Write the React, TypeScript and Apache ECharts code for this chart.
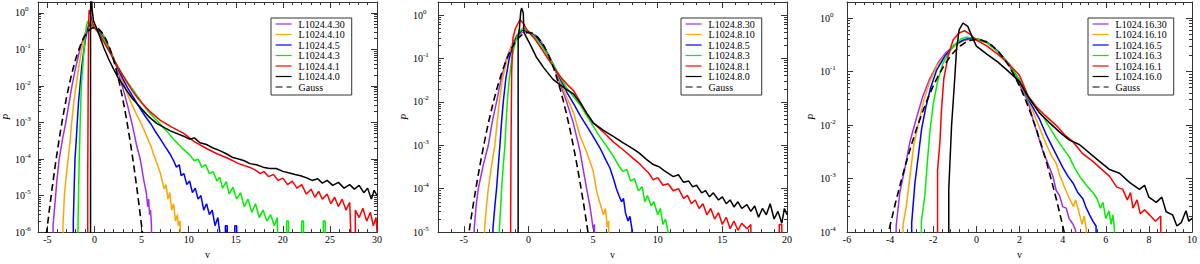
import React, { useEffect, useRef } from 'react';
import * as echarts from 'echarts';

type Pt = [number, number];

// ---------- values ([v, P]) ----------
// Gaussian reference curve
const gaussCurve: Pt[] = [
  [-5.5, 1.08e-7], [-5.25, 4.13e-7], [-5, 1.49e-6], [-4.75, 5.03e-6], [-4.5, 1.6e-5], [-4.25, 4.77e-5],
  [-4, 1.34e-4], [-3.75, 3.53e-4], [-3.5, 8.73e-4], [-3.25, 2.03e-3], [-3, 4.43e-3], [-2.75, 9.09e-3],
  [-2.5, 0.0175], [-2.25, 0.0317], [-2, 0.054], [-1.75, 0.0863], [-1.5, 0.1295], [-1.25, 0.1826],
  [-1, 0.242], [-0.75, 0.3011], [-0.5, 0.3521], [-0.25, 0.3867], [0, 0.3989], [0.25, 0.3867],
  [0.5, 0.3521], [0.75, 0.3011], [1, 0.242], [1.25, 0.1826], [1.5, 0.1295], [1.75, 0.0863],
  [2, 0.054], [2.25, 0.0317], [2.5, 0.0175], [2.75, 9.09e-3], [3, 4.43e-3], [3.25, 2.03e-3],
  [3.5, 8.73e-4], [3.75, 3.53e-4], [4, 1.34e-4], [4.25, 4.77e-5], [4.5, 1.6e-5], [4.75, 5.03e-6],
  [5, 1.49e-6], [5.25, 4.13e-7], [5.5, 1.08e-7],
];

// Panel 1 : L1024.4.*
const p1_k30: Pt[] = [
  [-4.4, 1e-8], [-4.4, 1.5e-6], [-4.2, 6e-6], [-4.0, 2.5e-5], [-3.75, 1e-4], [-3.4, 3.5e-4], [-3.05, 1e-3],
  [-2.7, 3.5e-3], [-2.4, 1e-2], [-2.0, 3.2e-2], [-1.55, 0.1], [-1.2, 0.2], [-0.9, 0.32], [-0.6, 0.45],
  [-0.35, 0.46], [0, 0.41], [0.5, 0.35], [1, 0.23], [1.5, 0.125], [2, 0.06], [2.5, 0.025], [3, 9e-3],
  [3.5, 3e-3], [4, 9e-4], [4.5, 2.2e-4], [4.85, 1e-4], [5.0, 6e-5], [5.25, 2.5e-5], [5.5, 1.2e-5],
  [5.65, 5e-6], [5.75, 8e-6], [5.85, 3e-6], [5.95, 4e-6], [6.05, 1.5e-6], [6.1, 1e-8],
];
const p1_k10: Pt[] = [
  [-3.35, 1e-8], [-3.35, 1.5e-6], [-3.2, 1e-5], [-3.0, 3.5e-5], [-2.8, 1e-4], [-2.6, 3e-4], [-2.42, 1e-3],
  [-2.2, 3.5e-3], [-1.96, 1e-2], [-1.7, 3e-2], [-1.36, 0.1], [-1.1, 0.2], [-0.85, 0.35], [-0.6, 0.5],
  [-0.4, 0.48], [0, 0.4], [0.5, 0.34], [1, 0.22], [1.5, 0.12], [2, 0.06], [2.5, 0.028], [3, 0.013],
  [3.5, 6e-3], [4, 3e-3], [4.5, 1.6e-3], [5, 9e-4], [5.5, 4.5e-4], [6, 2.2e-4], [6.3, 1.3e-4], [6.6, 8e-5],
  [7.0, 4e-5], [7.2, 2.5e-5], [7.4, 1.5e-5], [7.6, 2e-5], [7.8, 8e-6], [8.0, 1.2e-5], [8.2, 4e-6],
  [8.4, 6e-6], [8.6, 2e-6], [8.8, 3e-6], [8.9, 1.5e-6], [9.1, 2e-6], [9.2, 1e-8],
];
const p1_k5: Pt[] = [
  [-2.25, 1e-8], [-2.25, 2e-6], [-2.15, 2e-5], [-2.07, 1e-4], [-1.95, 3e-4], [-1.83, 1e-3], [-1.7, 3.5e-3],
  [-1.54, 1e-2], [-1.35, 3.5e-2], [-1.12, 0.1], [-0.95, 0.2], [-0.75, 0.35], [-0.55, 0.5], [-0.3, 0.47],
  [0, 0.39], [0.5, 0.31], [1, 0.2], [1.5, 0.11], [2, 0.058], [2.5, 0.03], [3, 0.016], [3.5, 9e-3],
  [4, 5.5e-3], [4.5, 3.4e-3], [5, 2.1e-3], [5.5, 1.35e-3], [6, 9e-4], [6.5, 5.5e-4], [7, 3.5e-4],
  [7.5, 2.2e-4], [8, 1.4e-4], [8.4, 9e-5], [8.7, 6e-5], [9.0, 7e-5], [9.2, 3.5e-5], [9.5, 4e-5],
  [9.8, 2e-5], [10.1, 2.5e-5], [10.4, 1.2e-5], [10.7, 1.6e-5], [11.0, 8e-6], [11.3, 1e-5], [11.6, 4e-6],
  [11.9, 6e-6], [12.2, 3e-6], [12.5, 4e-6], [12.8, 1.5e-6], [13.1, 2.5e-6], [13.3, 1e-6], [13.3, 1e-8],
  [13.9, 1e-8], [13.9, 1.5e-6], [14.1, 1.5e-6], [14.1, 1e-8], [14.9, 1e-8], [14.9, 1.5e-6], [15.1, 1.5e-6],
  [15.1, 1e-8],
];
const p1_k3: Pt[] = [
  [-1.75, 1e-8], [-1.75, 2e-6], [-1.7, 1e-5], [-1.62, 1e-4], [-1.52, 1e-3], [-1.4, 1e-2], [-1.2, 0.05],
  [-1.0, 0.2], [-0.85, 0.45], [-0.7, 0.6], [-0.5, 0.55], [-0.2, 0.45], [0, 0.38], [0.5, 0.29], [1, 0.19],
  [1.5, 0.105], [2, 0.058], [2.5, 0.033], [3, 0.02], [3.5, 0.013], [4, 8.5e-3], [4.5, 5.5e-3], [5, 3.6e-3],
  [5.7, 2e-3], [6.6, 1.15e-3], [7.5, 6.5e-4], [8.4, 3.5e-4], [9.3, 2e-4], [10.1, 1.3e-4], [10.6, 9e-5],
  [11.0, 1e-4], [11.4, 6e-5], [11.8, 7e-5], [12.2, 4e-5], [12.6, 4.5e-5], [13.0, 2.5e-5], [13.3, 3.2e-5],
  [13.6, 1.6e-5], [14.0, 2.4e-5], [14.3, 1.1e-5], [14.7, 1.7e-5], [15.1, 8e-6], [15.5, 1.2e-5],
  [15.9, 5e-6], [16.3, 8e-6], [16.7, 3.5e-6], [17.1, 6e-6], [17.5, 2.5e-6], [17.9, 4e-6], [18.3, 2e-6],
  [18.7, 3e-6], [19.1, 1.5e-6], [19.4, 2.5e-6], [19.7, 1e-8], [20.4, 1e-8], [20.4, 2e-6], [20.6, 2e-6],
  [20.6, 1e-8], [22.0, 1e-8], [22.0, 2e-6], [22.2, 2e-6], [22.2, 1e-8], [24.3, 1e-8], [24.3, 2e-6],
  [24.5, 2e-6], [24.5, 1e-8],
];
const p1_k1: Pt[] = [
  [-0.72, 1e-8], [-0.72, 3e-5], [-0.67, 1e-2], [-0.62, 0.5], [-0.57, 1.2], [-0.47, 1.1], [-0.35, 0.75],
  [-0.2, 0.52], [0, 0.4], [0.5, 0.27], [1, 0.16], [1.5, 0.095], [2, 0.055], [2.5, 0.033], [3, 0.02],
  [3.5, 0.012], [4, 7.5e-3], [4.5, 5e-3], [5, 3.5e-3], [5.9, 2e-3], [7, 1.15e-3], [8.2, 7.5e-4],
  [9.4, 5.2e-4], [10.6, 3e-4], [11.9, 1.95e-4], [13, 1.4e-4], [14.1, 1.07e-4], [15.3, 7.5e-5],
  [16.5, 5.9e-5], [17.1, 5e-5], [17.6, 4e-5], [18.0, 4.6e-5], [18.5, 3.3e-5], [19.0, 3.8e-5],
  [19.5, 2.6e-5], [20.0, 3e-5], [20.5, 2e-5], [21.0, 2.5e-5], [21.5, 1.6e-5], [22.0, 2e-5], [22.5, 1.1e-5],
  [23.0, 1.5e-5], [23.4, 9e-6], [23.8, 1.3e-5], [24.2, 8e-6], [24.7, 1.1e-5], [25.1, 6e-6], [25.5, 9e-6],
  [25.9, 5e-6], [26.3, 8e-6], [26.7, 4e-6], [27.1, 6.5e-6], [27.5, 1e-8], [27.7, 1e-8], [27.7, 4e-6],
  [28.1, 2.5e-6], [28.5, 4.5e-6], [28.9, 2e-6], [29.3, 3.5e-6], [29.6, 1.5e-6], [29.9, 2.5e-6], [30, 1e-6],
];
const p1_k0: Pt[] = [
  [-0.42, 1e-8], [-0.42, 0.5], [-0.4, 3], [-0.3, 2.5], [-0.25, 1.2], [-0.1, 0.6], [0.2, 0.4], [0.5, 0.25],
  [1, 0.11], [1.5, 0.055], [2, 0.03], [2.5, 0.017], [3, 0.011], [3.5, 7e-3], [4, 4.6e-3], [4.5, 3.3e-3],
  [5, 2.4e-3], [5.7, 1.5e-3], [6.6, 9.5e-4], [8, 6e-4], [9.4, 4.3e-4], [10.1, 3.5e-4], [10.6, 3.8e-4],
  [11.2, 2.8e-4], [11.9, 2.5e-4], [12.6, 2e-4], [13.3, 1.7e-4], [14, 1.4e-4], [14.7, 1.1e-4], [15.3, 1e-4],
  [15.9, 9e-5], [16.5, 7.5e-5], [17.2, 7e-5], [17.9, 6e-5], [18.6, 5.5e-5], [19.3, 5.5e-5], [20, 4.6e-5],
  [20.6, 4.2e-5], [21.3, 3.8e-5], [21.9, 3.5e-5], [22.6, 3e-5], [23.1, 2.6e-5], [23.7, 2.9e-5],
  [24.2, 2.2e-5], [24.7, 2.6e-5], [25.3, 1.9e-5], [25.9, 2.3e-5], [26.5, 1.6e-5], [27.1, 2e-5],
  [27.6, 1.5e-5], [28.1, 1.9e-5], [28.6, 1.2e-5], [29.0, 1.6e-5], [29.4, 8e-6], [29.7, 1.4e-5], [30, 1e-5],
];

// Panel 2 : L1024.8.*
const p2_k30: Pt[] = [
  [-4.2, 1e-8], [-4.2, 1.2e-5], [-4.05, 4e-5], [-3.88, 1e-4], [-3.5, 3.5e-4], [-3.11, 1e-3], [-2.8, 3.5e-3],
  [-2.47, 1e-2], [-2.1, 3.5e-2], [-1.7, 0.1], [-1.3, 0.2], [-0.9, 0.32], [-0.5, 0.4], [-0.2, 0.41],
  [0, 0.4], [0.5, 0.35], [1, 0.24], [1.5, 0.13], [2, 0.06], [2.5, 0.024], [3, 9e-3], [3.5, 3e-3],
  [4, 7e-4], [4.25, 2.6e-4], [4.5, 1e-4], [4.75, 4e-5], [4.9, 2e-5], [5.0, 1.2e-5], [5.1, 1.5e-5],
  [5.15, 1e-8],
];
const p2_k10: Pt[] = [
  [-3.4, 1e-8], [-3.4, 1.2e-5], [-3.25, 4e-5], [-3.11, 1e-4], [-2.85, 3.5e-4], [-2.6, 1e-3], [-2.42, 3.5e-3],
  [-2.26, 1e-2], [-2.0, 3.5e-2], [-1.64, 0.1], [-1.25, 0.22], [-0.9, 0.35], [-0.5, 0.42], [-0.2, 0.42],
  [0, 0.41], [0.5, 0.34], [1, 0.23], [1.5, 0.13], [2, 0.064], [2.5, 0.028], [3, 0.012], [3.5, 5.5e-3],
  [4, 1.6e-3], [4.5, 7e-4], [5, 2.6e-4], [5.3, 8e-5], [5.5, 5e-5], [5.8, 2.5e-5], [5.95, 3.5e-5],
  [6.1, 1.3e-5], [6.2, 1.8e-5], [6.25, 1e-8],
];
const p2_k5: Pt[] = [
  [-2.75, 1e-8], [-2.75, 1.2e-5], [-2.6, 4e-5], [-2.47, 1e-4], [-2.33, 3.5e-4], [-2.21, 1e-3],
  [-2.08, 3.5e-3], [-1.95, 1e-2], [-1.75, 3.5e-2], [-1.49, 0.1], [-1.2, 0.2], [-0.9, 0.33], [-0.5, 0.45],
  [-0.2, 0.43], [0, 0.41], [0.5, 0.33], [1, 0.22], [1.5, 0.125], [2, 0.065], [2.5, 0.032], [3, 0.016],
  [3.5, 9e-3], [4, 4.8e-3], [4.5, 2.8e-3], [5, 1.6e-3], [5.5, 9e-4], [6, 4.5e-4], [6.3, 3e-4],
  [6.6, 1.6e-4], [6.8, 1e-4], [7.0, 7e-5], [7.2, 5e-5], [7.35, 6e-5], [7.5, 2.8e-5], [7.7, 1.8e-5],
  [7.85, 2.3e-5], [8.0, 1.2e-5], [8.1, 1e-8],
];
const p2_k3: Pt[] = [
  [-2.25, 1e-8], [-2.25, 1.2e-5], [-2.15, 4e-5], [-2.08, 1e-4], [-1.95, 3.5e-4], [-1.82, 1e-3],
  [-1.73, 3.5e-3], [-1.64, 1e-2], [-1.48, 3.5e-2], [-1.3, 0.1], [-1.05, 0.22], [-0.75, 0.4], [-0.45, 0.5],
  [-0.2, 0.46], [0, 0.42], [0.5, 0.31], [1, 0.2], [1.5, 0.12], [2, 0.066], [2.5, 0.035], [3, 0.02],
  [3.5, 0.013], [4, 8.5e-3], [4.5, 4.8e-3], [5, 2.8e-3], [5.5, 1.6e-3], [6, 1e-3], [6.5, 6e-4],
  [7, 3.3e-4], [7.3, 2.5e-4], [7.6, 2.8e-4], [7.9, 1.5e-4], [8.2, 1.7e-4], [8.5, 9e-5], [8.8, 1.1e-4],
  [9.0, 5e-5], [9.2, 7e-5], [9.5, 4e-5], [9.7, 5e-5], [10.0, 2.5e-5], [10.2, 3.5e-5], [10.4, 1.5e-5],
  [10.6, 2e-5], [10.8, 1e-5], [10.85, 1e-8],
];
const p2_k1: Pt[] = [
  [-1.38, 1e-8], [-1.38, 2e-5], [-1.35, 1e-3], [-1.3, 0.05], [-1.2, 0.3], [-1.0, 0.5], [-0.66, 0.78],
  [-0.4, 0.65], [-0.2, 0.5], [0, 0.41], [0.5, 0.28], [1, 0.17], [1.5, 0.1], [2, 0.06], [2.5, 0.037],
  [3, 0.025], [3.5, 0.018], [4, 0.01], [4.5, 5.5e-3], [5, 3.3e-3], [5.8, 2e-3], [6.56, 1.2e-3],
  [7.3, 8e-4], [8.1, 5e-4], [8.5, 4e-4], [8.9, 3e-4], [9.3, 2.3e-4], [9.65, 1.6e-4], [10, 1.8e-4],
  [10.4, 1.2e-4], [10.8, 1.3e-4], [11.2, 9e-5], [11.6, 1e-4], [12.0, 6e-5], [12.3, 7e-5], [12.6, 4.5e-5],
  [12.9, 5.5e-5], [13.2, 3.5e-5], [13.5, 4.5e-5], [13.8, 2.5e-5], [14.1, 3.5e-5], [14.4, 2e-5],
  [14.7, 2.8e-5], [15.0, 1.5e-5], [15.3, 2.2e-5], [15.6, 1.2e-5], [15.9, 1.8e-5], [16.2, 1.1e-5],
  [16.5, 1.6e-5], [16.9, 1.2e-5], [17.2, 1.5e-5], [17.3, 1e-8], [19.4, 1e-8], [19.4, 1.5e-5],
  [19.6, 1.5e-5], [19.6, 1e-8],
];
const p2_k0: Pt[] = [
  [-0.8, 1e-8], [-0.8, 0.3], [-0.7, 0.5], [-0.6, 1.2], [-0.53, 1.45], [-0.4, 1.1], [-0.36, 0.4],
  [0.1, 0.22], [0.63, 0.105], [1.2, 0.06], [1.9, 0.033], [2.5, 0.024], [3, 0.019], [3.5, 0.015],
  [4, 9.5e-3], [4.5, 5.5e-3], [5, 3.3e-3], [5.8, 2.2e-3], [6.56, 1.6e-3], [7.3, 1.15e-3], [8.1, 8.3e-4],
  [8.6, 6.5e-4], [9.1, 4.8e-4], [9.65, 3.6e-4], [10.1, 3.2e-4], [10.5, 2.6e-4], [11.2, 1.9e-4],
  [11.6, 2.1e-4], [12.0, 1.4e-4], [12.4, 1.5e-4], [12.7, 1.1e-4], [13.0, 1.2e-4], [13.4, 8e-5],
  [13.7, 9e-5], [14.0, 6.5e-5], [14.3, 8e-5], [14.7, 5.5e-5], [15.0, 6.5e-5], [15.3, 4.5e-5],
  [15.6, 5.5e-5], [15.9, 3.8e-5], [16.2, 5e-5], [16.5, 3.5e-5], [16.9, 4.3e-5], [17.2, 3e-5], [17.5, 4e-5],
  [17.8, 2.2e-5], [18.1, 3.5e-5], [18.4, 2.5e-5], [18.7, 4.5e-5], [19.0, 2e-5], [19.3, 3e-5],
  [19.6, 1.6e-5], [19.8, 3.5e-5], [20, 2.5e-5],
];

// Panel 3 : L1024.16.*
const p3_k30: Pt[] = [
  [-3.72, 1e-8], [-3.72, 1.3e-4], [-3.55, 5.5e-4], [-3.31, 1.6e-3], [-3.08, 4.9e-3], [-2.8, 1.26e-2],
  [-2.5, 3.3e-2], [-2.16, 7.4e-2], [-1.77, 0.148], [-1.4, 0.23], [-1.0, 0.31], [-0.6, 0.38], [-0.2, 0.41],
  [0, 0.41], [0.5, 0.36], [1, 0.242], [1.5, 0.135], [2, 0.057], [2.4, 0.027], [2.63, 0.0126],
  [3.09, 3.2e-3], [3.3, 2e-3], [3.55, 1.1e-3], [3.7, 6e-4], [3.86, 4.8e-4], [4.0, 3e-4], [4.17, 2.8e-4],
  [4.3, 1.8e-4], [4.48, 1.4e-4], [4.6, 1.1e-4], [4.62, 1e-8],
];
const p3_k10: Pt[] = [
  [-3.4, 1e-8], [-3.4, 1.4e-4], [-3.24, 3.2e-4], [-3.08, 1.1e-3], [-2.9, 4.3e-3], [-2.68, 1.1e-2],
  [-2.44, 2.9e-2], [-2.16, 6.5e-2], [-1.82, 0.13], [-1.38, 0.22], [-1.0, 0.3], [-0.6, 0.38], [-0.3, 0.42],
  [0, 0.41], [0.5, 0.36], [1, 0.24], [1.5, 0.14], [2, 0.065], [2.4, 0.03], [2.78, 0.0126], [3.25, 4.3e-3],
  [3.5, 2.6e-3], [3.71, 1.9e-3], [3.85, 1.2e-3], [4.01, 8.3e-4], [4.15, 6e-4], [4.32, 4.2e-4], [4.5, 3e-4],
  [4.6, 4e-4], [4.79, 2.1e-4], [4.9, 1.4e-4], [5.0, 2e-4], [5.1, 1.1e-4], [5.12, 1e-8],
];
const p3_k5: Pt[] = [
  [-3.0, 1e-8], [-3.0, 1.5e-4], [-2.85, 8.3e-4], [-2.7, 2.5e-3], [-2.54, 8.5e-3], [-2.34, 2.2e-2],
  [-2.12, 5e-2], [-1.85, 0.105], [-1.46, 0.195], [-1.0, 0.32], [-0.6, 0.39], [-0.31, 0.42], [0, 0.41],
  [0.5, 0.35], [1, 0.24], [1.5, 0.14], [2, 0.068], [2.4, 0.031], [2.94, 0.0126], [3.25, 6.5e-3],
  [3.55, 3.7e-3], [4.01, 1.6e-3], [4.25, 1.1e-3], [4.48, 8.3e-4], [4.7, 5.5e-4], [4.94, 4.2e-4],
  [5.1, 2.8e-4], [5.25, 2.1e-4], [5.4, 1.6e-4], [5.55, 1.3e-4], [5.62, 1e-8],
];
const p3_k3: Pt[] = [
  [-2.55, 1e-8], [-2.55, 1.6e-4], [-2.39, 4.8e-4], [-2.28, 1.9e-3], [-2.16, 7.4e-3], [-2.0, 2.5e-2],
  [-1.8, 6.5e-2], [-1.54, 0.148], [-1.08, 0.3], [-0.7, 0.41], [-0.46, 0.44], [-0.2, 0.43], [0, 0.41],
  [0.5, 0.34], [1, 0.235], [1.5, 0.14], [2, 0.07], [2.4, 0.032], [3.09, 0.0145], [3.4, 9e-3],
  [3.71, 5.6e-3], [4.0, 3.8e-3], [4.32, 2.5e-3], [4.55, 1.6e-3], [4.79, 1.1e-3], [5.1, 7.5e-4],
  [5.4, 5.5e-4], [5.6, 4.2e-4], [5.75, 2.8e-4], [5.87, 3.6e-4], [6.0, 1.8e-4], [6.15, 2.5e-4],
  [6.25, 1.4e-4], [6.33, 2.1e-4], [6.4, 1.2e-4], [6.42, 1e-8],
];
const p3_k1: Pt[] = [
  [-1.8, 1e-8], [-1.8, 1.4e-3], [-1.69, 4.9e-3], [-1.62, 1.9e-2], [-1.51, 7.4e-2], [-1.31, 0.195],
  [-1.08, 0.39], [-0.8, 0.53], [-0.54, 0.58], [-0.3, 0.5], [0, 0.39], [0.5, 0.3], [1, 0.21], [1.5, 0.14],
  [2, 0.085], [2.4, 0.035], [2.78, 0.022], [3.2, 0.015], [3.71, 9.8e-3], [4.1, 6.5e-3], [4.48, 4.9e-3],
  [4.9, 3e-3], [5.4, 2.1e-3], [5.8, 1.5e-3], [6.18, 1.1e-3], [6.5, 7e-4], [6.79, 6.3e-4], [7.0, 4e-4],
  [7.15, 5.5e-4], [7.26, 2.8e-4], [7.45, 4e-4], [7.6, 2.2e-4], [7.8, 2.6e-4], [8.03, 2.1e-4],
  [8.3, 1.6e-4], [8.55, 2e-4], [8.6, 1e-8],
];
const p3_k0: Pt[] = [
  [-1.28, 1e-8], [-1.28, 6.3e-4], [-1.15, 9.8e-3], [-1.03, 5.1e-2], [-0.92, 0.26], [-0.8, 0.6],
  [-0.62, 0.81], [-0.4, 0.7], [-0.2, 0.45], [0, 0.3], [0.5, 0.21], [1, 0.15], [1.5, 0.1], [2, 0.065],
  [2.4, 0.034], [2.94, 0.0166], [3.4, 0.011], [3.86, 7.4e-3], [4.3, 5.3e-3], [4.79, 4.3e-3], [5.25, 3e-3],
  [5.71, 2.1e-3], [6.15, 1.5e-3], [6.64, 1.26e-3], [7.1, 8.5e-4], [7.56, 6.3e-4], [7.8, 7.5e-4],
  [8.0, 4.5e-4], [8.34, 3.6e-4], [8.6, 4.5e-4], [8.8, 2.4e-4], [9.1, 2.1e-4], [9.3, 1.3e-4], [9.5, 1.5e-4],
  [9.72, 2.5e-4], [9.85, 1.6e-4], [10, 1.8e-4],
];

// ---------- categories / tick labels ----------
const sizes = ['4', '8', '16'];
const kappas = ['30', '10', '5', '3', '1', '0'];
const panelData: Pt[][][] = [
  [p1_k30, p1_k10, p1_k5, p1_k3, p1_k1, p1_k0],
  [p2_k30, p2_k10, p2_k5, p2_k3, p2_k1, p2_k0],
  [p3_k30, p3_k10, p3_k5, p3_k3, p3_k1, p3_k0],
];
const xRanges: [number, number][] = [[-6, 30], [-7, 20], [-6, 10]];
const xMajorTicks = [
  [-5, 0, 5, 10, 15, 20, 25, 30],
  [-5, 0, 5, 10, 15, 20],
  [-6, -4, -2, 0, 2, 4, 6, 8, 10],
];
const xMinorStep = [1, 1, 0.4];
const yDecadeMin = [-6, -5, -4]; // log10 of lowest P shown
const yMaxP = 2;

// ---------- layout / style ----------
const FONT = '"Liberation Serif", "Times New Roman", serif';
const COLORS = ['#a030e8', '#ffa500', '#0000ff', '#00f000', '#ff0000', '#000000'];
const FRAME = '#333';
const gridRects = [
  { left: 38, top: 2, width: 339, height: 243 },
  { left: 438, top: 2, width: 349, height: 243 },
  { left: 847, top: 2, width: 346, height: 243 },
];
const legendPos = [
  { left: 271, top: 18 },
  { left: 681, top: 18 },
  { left: 1088, top: 18 },
];
const yLabelMargin = [23, 25, 27];
const yNameGap = [24, 22, 23];

function buildOption() {
  const grid: any[] = [];
  const xAxis: any[] = [];
  const yAxis: any[] = [];
  const series: any[] = [];
  const legend: any[] = [];
  const logMax = Math.log10(yMaxP);
  const lineOn = { show: true, onZero: false, lineStyle: { color: FRAME, width: 1 } };
  const lineOff = { show: false, onZero: false };

  for (let p = 0; p < 3; p++) {
    grid.push({ ...gridRects[p], containLabel: false, show: false });
    const [xmin, xmax] = xRanges[p];
    const minor: number[] = [];
    for (let v = xmin; v <= xmax + 1e-9; v += xMinorStep[p]) minor.push(Math.round(v * 100) / 100);

    const baseX = {
      type: 'value', gridIndex: p, min: xmin, max: xmax,
      splitLine: { show: false },
    };
    // bottom major (data axis)
    xAxis.push({
      ...baseX, position: 'bottom', axisLine: lineOn,
      axisTick: { show: true, inside: true, length: 6, customValues: xMajorTicks[p], lineStyle: { color: FRAME } },
      axisLabel: {
        show: true, customValues: xMajorTicks[p], margin: 2, fontFamily: FONT, fontSize: 10, color: '#000',
      },
      name: 'v', nameLocation: 'middle', nameGap: 6,
      nameTextStyle: { fontFamily: FONT, fontSize: 10, color: '#000', verticalAlign: 'top' },
    });
    // bottom minor
    xAxis.push({
      ...baseX, position: 'bottom', axisLine: lineOff,
      axisTick: { show: true, inside: true, length: 3, customValues: minor, lineStyle: { color: FRAME } },
      axisLabel: { show: false },
    });
    // top major
    xAxis.push({
      ...baseX, position: 'top', axisLine: lineOn,
      axisTick: { show: true, inside: true, length: 6, customValues: xMajorTicks[p], lineStyle: { color: FRAME } },
      axisLabel: { show: false },
    });
    // top minor
    xAxis.push({
      ...baseX, position: 'top', axisLine: lineOff,
      axisTick: { show: true, inside: true, length: 3, customValues: minor, lineStyle: { color: FRAME } },
      axisLabel: { show: false },
    });

    // y axes
    const dmin = yDecadeMin[p];
    const decades: number[] = [];
    const minorY: number[] = [];
    for (let k = dmin; k <= 0; k++) {
      decades.push(k);
      for (let m = 2; m <= 9; m++) {
        const v = k + Math.log10(m);
        if (v <= logMax) minorY.push(v);
      }
    }
    // data axis (log)
    yAxis.push({
      type: 'log', logBase: 10, gridIndex: p, min: Math.pow(10, dmin), max: yMaxP, show: false,
      axisLine: lineOff,
    });
    const baseY = {
      type: 'value', gridIndex: p, min: dmin, max: logMax, splitLine: { show: false },
    };
    yAxis.push({
      ...baseY, position: 'left', axisLine: lineOn,
      axisTick: { show: true, inside: true, length: 6, customValues: decades, lineStyle: { color: FRAME } },
      axisLabel: {
        show: true, customValues: decades, align: 'left', margin: yLabelMargin[p],
        formatter: (v: number) => `{b|10}{s|${v}}`,
        rich: {
          b: { fontFamily: FONT, fontSize: 10, color: '#000' },
          s: { fontFamily: FONT, fontSize: 7, color: '#000', padding: [0, 0, 7, 0] },
        },
      },
      name: 'P', nameLocation: 'middle', nameGap: yNameGap[p], nameRotate: 90,
      nameTextStyle: { fontFamily: FONT, fontSize: 10, fontStyle: 'italic', color: '#000' },
    });
    yAxis.push({
      ...baseY, position: 'left', axisLine: lineOff,
      axisTick: { show: true, inside: true, length: 3, customValues: minorY, lineStyle: { color: FRAME } },
      axisLabel: { show: false },
    });
    yAxis.push({
      ...baseY, position: 'right', axisLine: lineOn,
      axisTick: { show: true, inside: true, length: 6, customValues: decades, lineStyle: { color: FRAME } },
      axisLabel: { show: false },
    });
    yAxis.push({
      ...baseY, position: 'right', axisLine: lineOff,
      axisTick: { show: true, inside: true, length: 3, customValues: minorY, lineStyle: { color: FRAME } },
      axisLabel: { show: false },
    });

    const names: string[] = [];
    for (let s = 0; s < 6; s++) {
      const name = `L1024.${sizes[p]}.${kappas[s]}`;
      names.push(name);
      series.push({
        type: 'line', name, xAxisIndex: 4 * p, yAxisIndex: 5 * p,
        data: panelData[p][s], showSymbol: false, symbol: 'none', clip: true,
        lineStyle: { color: COLORS[s], width: 1.5 }, itemStyle: { color: COLORS[s] },
        emphasis: { disabled: true },
      });
    }
    series.push({
      type: 'line', name: 'Gauss', xAxisIndex: 4 * p, yAxisIndex: 5 * p,
      data: gaussCurve, showSymbol: false, symbol: 'none', clip: true,
      lineStyle: { color: '#000', width: 1.6, type: [7, 4] }, itemStyle: { color: '#000' },
      emphasis: { disabled: true },
    });
    names.push('Gauss');

    legend.push({
      ...legendPos[p], orient: 'vertical', data: names,
      itemWidth: 16, itemHeight: 10, itemGap: 0.5,
      padding: [1, 7, 3, 4], borderColor: FRAME, borderWidth: 1, borderRadius: 0,
      backgroundColor: '#fff', selectedMode: false,
      itemStyle: { opacity: 0, borderWidth: 0 },
      lineStyle: { width: 1.2 },
      textStyle: { fontFamily: FONT, fontSize: 10, color: '#000', padding: [0, 0, 0, 2] },
    });
  }

  return {
    animation: false,
    backgroundColor: '#fff',
    grid, xAxis, yAxis, series, legend,
  };
}

export default function App() {
  const ref = useRef<HTMLDivElement>(null);
  useEffect(() => {
    if (!ref.current) return;
    const chart = echarts.init(ref.current, null, { renderer: 'svg', width: 1200, height: 264 });
    chart.setOption(buildOption() as any);
    return () => chart.dispose();
  }, []);
  return (
    <div
      ref={ref}
      style={{ position: 'absolute', left: 0, top: 0, width: 1200, height: 264, background: '#fff' }}
    />
  );
}
